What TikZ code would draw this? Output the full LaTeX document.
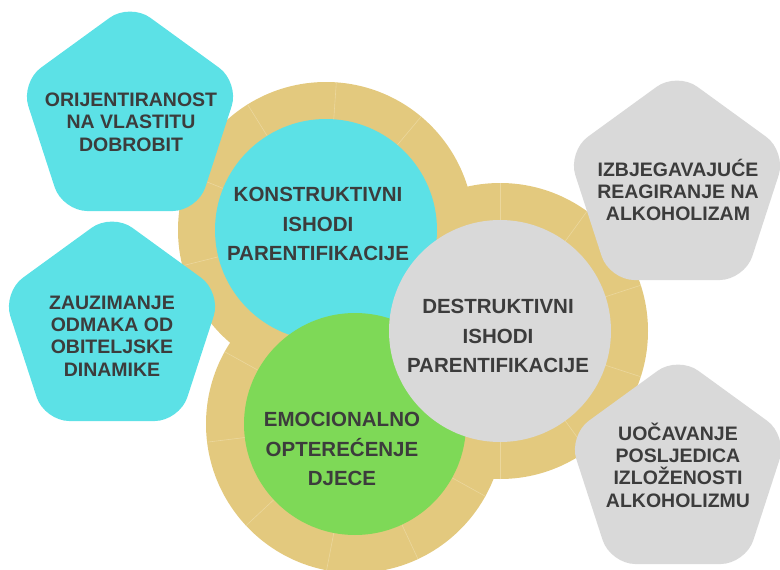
\documentclass[tikz,border=0pt]{standalone}
\usepackage{fontspec}
\setmainfont{Liberation Sans}
\usetikzlibrary{shapes.geometric}
\newlength{\du}
\setlength{\du}{1pt}
\definecolor{ringcolor}{rgb}{0.890196, 0.788235, 0.494118}
\definecolor{seamcolor}{rgb}{0.921569, 0.843137, 0.615686}
\definecolor{cyancolor}{rgb}{0.360784, 0.882353, 0.901961}
\definecolor{greencolor}{rgb}{0.494118, 0.850980, 0.341176}
\definecolor{greycolor}{rgb}{0.850980, 0.850980, 0.850980}
\definecolor{textcolor}{rgb}{0.235294, 0.235294, 0.235294}
\tikzset{
  ring/.style={circle,fill=ringcolor,inner sep=0pt,minimum size=296\du},
  seam/.style={draw=seamcolor,line width=0.6\du},
  hub/.style={circle,inner sep=0pt,minimum size=222\du},
  hubtext/.style={align=center,inner sep=0pt,text=textcolor,font=\fontsize{20.5}{29.5}\selectfont\bfseries},
  petal/.style={regular polygon,regular polygon sides=5,inner sep=0pt,minimum size=230\du,rounded corners=25\du},
  petaltext/.style={align=center,inner sep=0pt,text=textcolor,font=\fontsize{19.5}{22.3}\selectfont\bfseries}
}
\begin{document}
\begin{tikzpicture}[x=1\du,y=-1\du]
\useasboundingbox (0,0) rectangle (780,570);
% rings with their seams
\node[ring] (konring) at (326,230) {};
\foreach \a in {14,50,...,338}
  \draw[seam] ([shift={(\a:110\du)}]konring.center) -- ([shift={(\a:148\du)}]konring.center);
\node[ring,minimum size=298\du] (emoring) at (355,424) {};
\foreach \a in {7,43,...,331}
  \draw[seam] ([shift={(\a:110\du)}]emoring.center) -- ([shift={(\a:149\du)}]emoring.center);
\node[ring] (desring) at (500,331) {};
\foreach \a in {18,54,...,342}
  \draw[seam] ([shift={(\a:110\du)}]desring.center) -- ([shift={(\a:148\du)}]desring.center);
% hubs
\node[hub,fill=cyancolor] (kon) at (konring.center) {};
\node[hub,fill=greencolor] (emo) at (emoring.center) {};
\node[hub,fill=greycolor] (des) at (desring.center) {};
% petals
\node[petal,fill=cyancolor] (orij) at (130,118) {};
\node[petal,fill=cyancolor] (zauz) at (112,328) {};
\node[petal,fill=greycolor] (izbj) at (677,187) {};
\node[petal,fill=greycolor] (uoca) at (678,471) {};
% texts
\node[hubtext] (kontext) at (318,224) {KONSTRUKTIVNI\\ISHODI\\PARENTIFIKACIJE};
\node[hubtext] (emotext) at (342,449) {EMOCIONALNO\\OPTEREĆENJE\\DJECE};
\node[hubtext] (destext) at (498,336) {DESTRUKTIVNI\\ISHODI\\PARENTIFIKACIJE};
\node[petaltext] (orijtext) at (131,122) {ORIJENTIRANOST\\NA VLASTITU\\DOBROBIT};
\node[petaltext] (zauztext) at (112,336) {ZAUZIMANJE\\ODMAKA OD\\OBITELJSKE\\DINAMIKE};
\node[petaltext] (izbjtext) at (678,190) {IZBJEGAVAJUĆE\\REAGIRANJE NA\\ALKOHOLIZAM};
\node[petaltext] (uocatext) at (678,465) {UOČAVANJE\\POSLJEDICA\\IZLOŽENOSTI\\ALKOHOLIZMU};
\end{tikzpicture}
\end{document}
